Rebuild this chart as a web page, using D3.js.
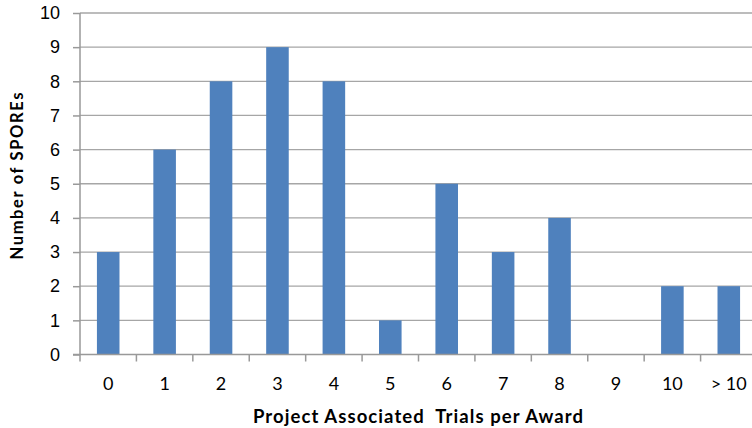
<!DOCTYPE html>
<html>
<head>
<meta charset="utf-8">
<script src="https://cdn.jsdelivr.net/npm/d3@7"></script>
<style>
  body { margin: 0; background: #fff; }
  svg { display: block; font-family: Lato, "Open Sans", sans-serif; }
  .grid line { stroke: #a6a6a6; stroke-width: 1.3; }
  .axis path, .axis line { stroke: #999; stroke-width: 1.5; }
  .axis text { fill: #000; font-size: 18px; }
  .title { font-weight: bold; fill: #000; }
</style>
</head>
<body>
<svg width="752" height="428"></svg>
<script>
const categories = ["0", "1", "2", "3", "4", "5", "6", "7", "8", "9", "10", "> 10"];
const counts = [3, 6, 8, 9, 8, 1, 5, 3, 4, 0, 2, 2];
const yTicks = [0, 1, 2, 3, 4, 5, 6, 7, 8, 9, 10];

const svg = d3.select("svg");
const plotLeft = 80, plotRight = 757, plotTop = 13, plotBottom = 354.5;

const x = d3.scaleBand()
  .domain(categories)
  .range([plotLeft, plotRight])
  .paddingInner(0.6)
  .paddingOuter(0.3);

const y = d3.scaleLinear()
  .domain([0, 10])
  .range([plotBottom, plotTop]);

// gridlines
svg.append("g").attr("class", "grid")
  .selectAll("line")
  .data(yTicks.filter(d => d > 0))
  .enter().append("line")
  .attr("x1", plotLeft).attr("x2", 752)
  .attr("y1", d => y(d)).attr("y2", d => y(d));

// bars
svg.append("g")
  .selectAll("rect")
  .data(categories.map((c, i) => ({ c: c, v: counts[i] })))
  .enter().append("rect")
  .attr("x", d => x(d.c))
  .attr("width", x.bandwidth())
  .attr("y", d => y(d.v))
  .attr("height", d => y(0) - y(d.v))
  .attr("fill", "#4f81bd");

// y axis
const yAxis = svg.append("g").attr("class", "axis")
  .attr("transform", `translate(${plotLeft},0)`)
  .call(d3.axisLeft(y).tickValues(yTicks).tickSize(7).tickPadding(13).tickSizeOuter(0));
yAxis.select(".domain").attr("d", `M0,${plotTop}V${plotBottom}`);

// x axis, ticks sit between categories
const xAxis = svg.append("g").attr("class", "axis")
  .attr("transform", `translate(0,${plotBottom})`);
xAxis.append("line")
  .attr("x1", plotLeft - 7).attr("x2", 752)
  .attr("y1", 0).attr("y2", 0);
const boundaries = d3.range(categories.length).map(i => plotLeft + i * x.step());
xAxis.selectAll(".tk")
  .data(boundaries)
  .enter().append("line")
  .attr("class", "tk")
  .attr("x1", d => d).attr("x2", d => d)
  .attr("y1", 0).attr("y2", 7);
xAxis.selectAll("text")
  .data(categories)
  .enter().append("text")
  .attr("x", d => x(d) + x.bandwidth() / 2)
  .attr("y", 35)
  .attr("text-anchor", "middle")
  .text(d => d);

// titles
svg.append("text").attr("class", "title")
  .attr("x", 418).attr("y", 423)
  .attr("text-anchor", "middle")
  .attr("font-size", 18.5)
  .attr("textLength", 330)
  .attr("lengthAdjust", "spacing")
  .attr("xml:space", "preserve")
  .style("white-space", "pre")
  .text("Project Associated  Trials per Award");

svg.append("text").attr("class", "title")
  .attr("transform", "translate(23,176) rotate(-90)")
  .attr("text-anchor", "middle")
  .attr("font-size", 16.5)
  .attr("textLength", 167)
  .attr("lengthAdjust", "spacing")
  .text("Number of SPOREs");
</script>
</body>
</html>
